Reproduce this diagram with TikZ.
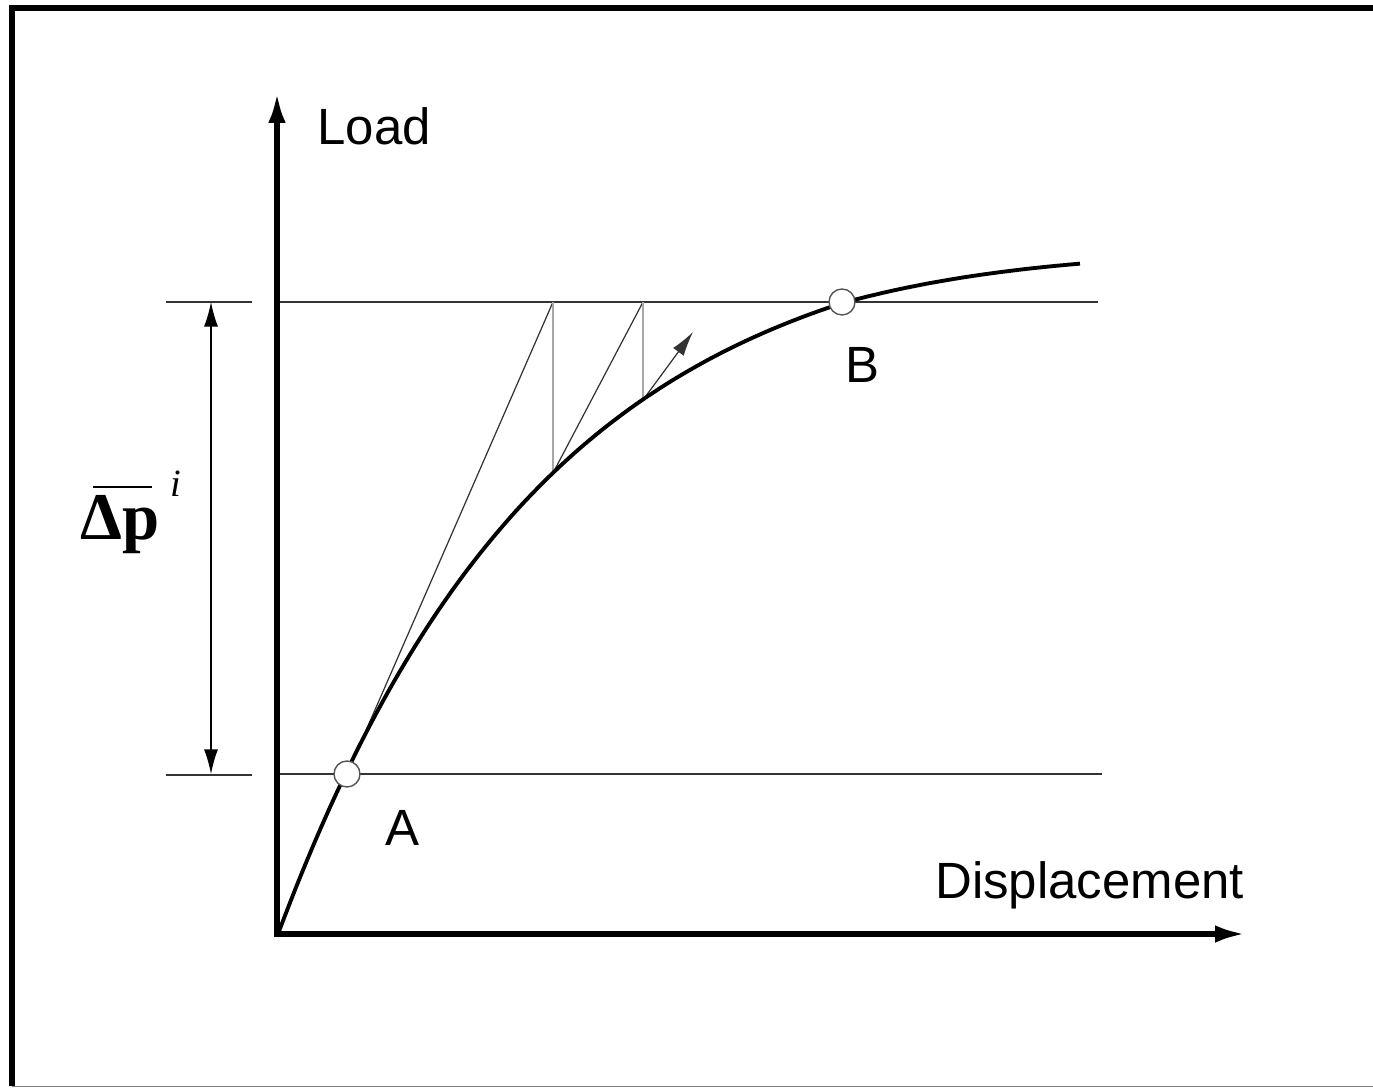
\documentclass[tikz,border=0pt]{standalone}
\usepackage{fontspec}
\setmainfont{Liberation Sans}
\newfontfamily\timesfont{Liberation Serif}
\usetikzlibrary{arrows.meta, positioning}
\definecolor{lline}{HTML}{333333}
\definecolor{lstep}{HTML}{A8A8A8}
\definecolor{lring}{HTML}{555555}

\begin{document}
\begin{tikzpicture}[x=0.02cm, y=0.02cm,
  axis/.style={line width=3pt, {Latex[length=17pt, width=10pt]}-{Latex[length=17pt, width=10pt]}},
  level/.style={draw=lline, line width=0.85pt},
  dimarrow/.style={line width=0.8pt, {Latex[length=14pt, width=8pt]}-{Latex[length=14pt, width=8pt]}},
  slant/.style={draw=lline, line width=0.7pt},
  drop/.style={draw=lstep, line width=1.1pt},
  curve/.style={line width=2.2pt},
  ring/.style={circle, draw=lring, fill=white, line width=0.8pt, minimum size=0.52cm, inner sep=0pt},
  lbl/.style={font=\fontsize{29}{34}\selectfont, anchor=base west, inner sep=0pt}]
\useasboundingbox (0,0) rectangle (1373,1088);
% frame
\draw[line width=3.4pt] (12,1.5) -- (12,1079.7) -- (1373,1079.7);
\draw[gray, line width=0.6pt] (12,1.5) -- (1373,1.5);
% named points
\coordinate (O) at (277,154);
\coordinate (ytip) at (277,995);
\coordinate (xtip) at (1245,154);
\coordinate (P1) at (553,786);
\coordinate (Q1) at (553,615);
\coordinate (P2) at (643,786);
\coordinate (Q2) at (643,688);
\coordinate (T) at (693,756);
\coordinate (dtop) at (211,786);
\coordinate (dbot) at (211,314);
% load levels
\draw[level] (278,786) -- (1098,786);
\draw[level] (278,314) -- (1102,314);
\draw[level] (166,786) -- (252,786);
\draw[level] (166,313) -- (252,313);
\draw[dimarrow] (dtop) -- (dbot);
% iteration steps
\draw[slant] (347,314) -- (P1);
\draw[drop] (P1) -- (Q1);
\draw[slant] (Q1) -- (P2);
\draw[drop] (P2) -- (Q2);
\draw[slant, -{Latex[length=14pt, width=7.5pt]}] (Q2) -- (T);
% load--displacement curve
\draw[curve] plot[domain=278:1080, samples=140]
  (\x, {154 + 718*(1-exp(-0.003745*(\x-278))) - 0.05*max(0,\x-842)});
\draw[axis] (ytip) -- (O) -- (xtip);
\node[ring] (A) at (347,314) {};
\node[ring] (B) at (842,786) {};
% labels
\node[lbl] (loadlbl) at (317,943) {Load};
\node[lbl] (displbl) at (935,189) {Displacement};
\node[lbl] (alabel) at (385,242) {A};
\node[lbl] (blabel) at (845,705) {B};
\node[font=\timesfont\bfseries\fontsize{38}{42}\selectfont, anchor=base west, inner sep=0pt]
  (dp) at (80,548) {Δp};
\draw[line width=1.5pt] (93,601) -- (152,601);
\node[font=\timesfont\itshape\fontsize{22}{26}\selectfont, anchor=base west, inner sep=0pt]
  (sup) at (170,591) {i};
\end{tikzpicture}
\end{document}
